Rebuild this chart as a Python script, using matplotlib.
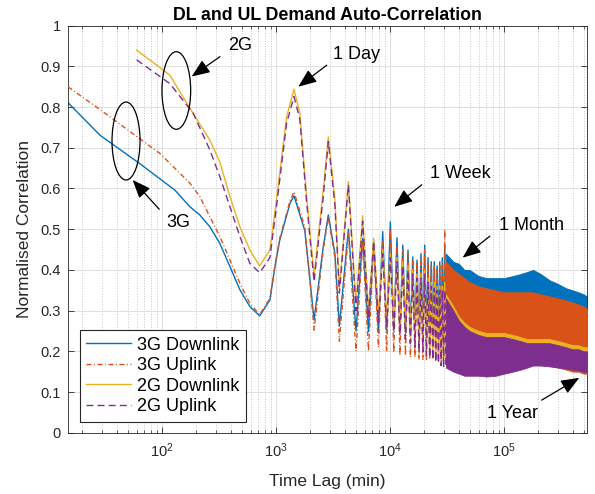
import matplotlib
matplotlib.use("Agg")
import matplotlib.pyplot as plt
from matplotlib.patches import Ellipse
import numpy as np

plt.rcParams['font.family'] = ['Liberation Sans', 'DejaVu Sans']

# colours (MATLAB default order)
C_3G_DL = '#0072BD'
C_3G_UL = '#D95319'
C_2G_DL = '#EDB120'
C_2G_UL = '#7E2F8E'

DAY = 1440  # minutes

# ---- early part of each curve (lag in min, correlation) ----
dl3_lag = [15, 28.6, 64, 130, 176, 215, 263, 322, 395, 483, 590, 720, 885, 980, 1080,
           1330, 1440, 1790, 1990, 2160, 2600, 2880, 3290, 3600]
dl3_val = [0.811, 0.731, 0.661, 0.596, 0.555, 0.535, 0.506, 0.465, 0.408, 0.351, 0.31, 0.287,
           0.326, 0.408, 0.473, 0.564, 0.582, 0.497, 0.375, 0.277, 0.457, 0.535, 0.44, 0.262]

ul3_lag = [15, 28.6, 96, 176, 215, 263, 322, 395, 483, 590, 720, 885, 980, 1080,
           1330, 1440, 1790, 1990, 2160, 2600, 2880, 3290, 3600]
ul3_val = [0.85, 0.794, 0.686, 0.613, 0.58, 0.531, 0.482, 0.424, 0.367, 0.318, 0.29,
           0.33, 0.41, 0.478, 0.57, 0.592, 0.505, 0.37, 0.252, 0.45, 0.53, 0.43, 0.225]

dl2_lag = [60, 117, 176, 263, 322, 395, 483, 590, 720, 885, 1010, 1240, 1440, 1620,
           1860, 2160, 2600, 2880, 3290, 3600]
dl2_val = [0.94, 0.879, 0.797, 0.719, 0.665, 0.58, 0.506, 0.449, 0.41, 0.449, 0.572, 0.776,
           0.844, 0.785, 0.58, 0.387, 0.596, 0.727, 0.572, 0.355]

ul2_lag = [60, 117, 188, 263, 322, 395, 483, 590, 720, 885, 1010, 1240, 1440, 1620,
           1860, 2160, 2600, 2880, 3290, 3600]
ul2_val = [0.916, 0.858, 0.785, 0.695, 0.629, 0.555, 0.482, 0.416, 0.393, 0.43, 0.555, 0.76,
           0.826, 0.77, 0.565, 0.371, 0.58, 0.715, 0.56, 0.343]

# ---- daily peaks (day 3..21) and troughs (day 3.5..21.5) ----
peak_days = np.arange(3, 22)
trough_days = peak_days + 0.5

dl3_peaks = [0.50, 0.478, 0.47, 0.494, 0.518, 0.479, 0.461, 0.449, 0.432, 0.424,
             0.44, 0.461, 0.43, 0.42, 0.42, 0.41, 0.42, 0.43, 0.457]
dl3_troughs = [0.25, 0.248, 0.248, 0.25, 0.25, 0.25, 0.248, 0.245, 0.245, 0.243,
               0.24, 0.24, 0.24, 0.24, 0.24, 0.24, 0.24, 0.24, 0.24]
ul3_peaks = [0.49, 0.47, 0.46, 0.47, 0.50, 0.46, 0.45, 0.44, 0.43, 0.42,
             0.43, 0.45, 0.42, 0.41, 0.41, 0.40, 0.41, 0.42, 0.50]
ul3_troughs = [0.20, 0.20, 0.21, 0.20, 0.197, 0.19, 0.19, 0.185, 0.185, 0.18,
               0.18, 0.18, 0.18, 0.18, 0.178, 0.178, 0.178, 0.178, 0.178]
dl2_peaks = [0.617, 0.533, 0.478, 0.45, 0.44, 0.43, 0.42, 0.41, 0.40, 0.39,
             0.39, 0.40, 0.38, 0.37, 0.37, 0.36, 0.36, 0.36, 0.37]
dl2_troughs = [0.318, 0.30, 0.29, 0.283, 0.275, 0.265, 0.255, 0.245, 0.235, 0.225,
               0.215, 0.21, 0.20, 0.195, 0.19, 0.185, 0.18, 0.175, 0.17]
ul2_peaks = [0.609, 0.52, 0.47, 0.44, 0.43, 0.42, 0.41, 0.40, 0.39, 0.38,
             0.38, 0.39, 0.37, 0.36, 0.355, 0.35, 0.35, 0.35, 0.35]
ul2_troughs = [0.30, 0.285, 0.27, 0.26, 0.25, 0.24, 0.23, 0.22, 0.21, 0.20,
               0.20, 0.19, 0.185, 0.18, 0.175, 0.17, 0.165, 0.16, 0.16]

# ---- long lags: oscillations merge into a band (lower / upper envelope) ----
band_lag = [30960, 36000, 40320, 45000, 50000, 60000, 70000, 85000, 100000, 120000, 140000,
            160000, 180000, 210000, 250000, 300000, 350000, 400000, 450000, 500000, 535000]
dl3_hi = [0.44, 0.42, 0.415, 0.40, 0.40, 0.385, 0.38, 0.38, 0.38, 0.385, 0.39,
          0.395, 0.40, 0.39, 0.375, 0.365, 0.355, 0.35, 0.345, 0.34, 0.335]
dl3_lo = [0.24, 0.24, 0.24, 0.24, 0.24, 0.24, 0.24, 0.24, 0.24, 0.24, 0.24,
          0.24, 0.24, 0.24, 0.24, 0.24, 0.24, 0.24, 0.24, 0.24, 0.24]
ul3_hi = [0.42, 0.40, 0.39, 0.38, 0.37, 0.36, 0.355, 0.35, 0.345, 0.345, 0.345,
          0.345, 0.345, 0.34, 0.335, 0.33, 0.325, 0.32, 0.315, 0.31, 0.305]
ul3_lo = [0.178, 0.175, 0.17, 0.17, 0.165, 0.165, 0.165, 0.165, 0.17, 0.17, 0.175,
          0.175, 0.175, 0.17, 0.165, 0.16, 0.155, 0.15, 0.15, 0.145, 0.145]
dl2_hi = [0.34, 0.31, 0.285, 0.27, 0.26, 0.25, 0.245, 0.245, 0.245, 0.24, 0.235,
          0.23, 0.23, 0.23, 0.23, 0.225, 0.22, 0.215, 0.215, 0.21, 0.21]
dl2_lo = [0.165, 0.16, 0.155, 0.15, 0.15, 0.145, 0.145, 0.148, 0.153, 0.158, 0.163,
          0.168, 0.17, 0.17, 0.168, 0.165, 0.162, 0.16, 0.157, 0.155, 0.152]
ul2_hi = [0.33, 0.30, 0.275, 0.26, 0.25, 0.24, 0.235, 0.235, 0.235, 0.23, 0.225,
          0.22, 0.22, 0.22, 0.22, 0.215, 0.21, 0.205, 0.205, 0.20, 0.20]
ul2_lo = [0.16, 0.15, 0.145, 0.14, 0.14, 0.14, 0.138, 0.14, 0.145, 0.15, 0.155,
          0.16, 0.165, 0.165, 0.163, 0.16, 0.158, 0.155, 0.153, 0.15, 0.148]


def full_curve(lag, val, peaks, troughs):
    x = np.concatenate([lag, np.ravel(np.column_stack([peak_days, trough_days])) * DAY])
    y = np.concatenate([val, np.ravel(np.column_stack([peaks, troughs]))])
    return x, y


series = [
    ('3G Downlink', C_3G_DL, '-', None, dl3_lag, dl3_val, dl3_peaks, dl3_troughs, dl3_lo, dl3_hi),
    ('3G Uplink', C_3G_UL, '-.', (3.6, 1.8, 0.7, 1.8), ul3_lag, ul3_val, ul3_peaks, ul3_troughs, ul3_lo, ul3_hi),
    ('2G Downlink', C_2G_DL, '-', None, dl2_lag, dl2_val, dl2_peaks, dl2_troughs, dl2_lo, dl2_hi),
    ('2G Uplink', C_2G_UL, '--', (5, 3), ul2_lag, ul2_val, ul2_peaks, ul2_troughs, ul2_lo, ul2_hi),
]

fig = plt.figure(figsize=(5.95, 4.94), dpi=100)
ax = fig.add_axes([68 / 595, (494 - 432.7) / 494, 519 / 595, 407 / 494])

for i, (name, col, ls, dash, lag, val, pk, tr, lo, hi) in enumerate(series):
    x, y = full_curve(lag, val, pk, tr)
    line, = ax.plot(x, y, color=col, ls=ls, lw=1.0, label=name, zorder=2 + i)
    if dash is not None:
        line.set_dashes(dash)
    ax.fill_between(band_lag, lo, hi, color=col, lw=0.6, edgecolor=col, zorder=2 + i)

ax.set_xscale('log')
ax.set_xlim(15, 535000)
ax.set_ylim(0, 1)
ax.set_yticks(np.arange(0, 1.01, 0.1))
ax.set_yticklabels(['0', '0.1', '0.2', '0.3', '0.4', '0.5', '0.6', '0.7', '0.8', '0.9', '1'])

ax.grid(True, which='major', color='#dedede', lw=0.7, zorder=0)
ax.grid(True, which='minor', axis='x', color='#c4c4c4', ls=':', lw=0.7, zorder=0)
ax.set_axisbelow(True)
ax.tick_params(which='both', direction='in', top=True, right=True, colors='#262626',
               labelsize=10.5, labelcolor='#262626')
ax.tick_params(which='major', length=4, width=0.6)
ax.tick_params(which='minor', length=2.2, width=0.5)
ax.tick_params(axis='y', pad=5)
ax.tick_params(axis='x', pad=6)
for s in ax.spines.values():
    s.set_color('#262626')
    s.set_linewidth(0.6)

ax.set_xlabel('Time Lag (min)', fontsize=12.5, color='#262626', labelpad=10)
ax.set_ylabel('Normalised Correlation', fontsize=12.5, color='#262626', labelpad=6)
ax.set_title('DL and UL Demand Auto-Correlation', fontsize=12.8, fontweight='bold', pad=4)

leg = ax.legend(loc='lower left', bbox_to_anchor=(0.023, 0.027), borderaxespad=0,
                fontsize=13, fancybox=False, framealpha=1, edgecolor='#262626',
                handlelength=2.5, handletextpad=0.3, labelspacing=0.2, borderpad=0.35)
leg.get_frame().set_linewidth(0.8)
leg.set_zorder(10)

# annotations: (text, text pos, arrow tail, arrow tip)
notes = [
    ('2G', (483, 0.952), (323, 0.924), (182, 0.875)),
    ('3G', (138, 0.516), (94.7, 0.549), (55.3, 0.621)),
    ('1 Day', (5140, 0.930), (2790, 0.903), (1570, 0.850)),
    ('1 Week', (41500, 0.636), (18970, 0.609), (10900, 0.555)),
    ('1 Month', (174000, 0.510), (75300, 0.483), (43400, 0.430)),
    ('1 Year', (118800, 0.048), (214000, 0.080), (458000, 0.135)),
]
for txt, tpos, tail, tip in notes:
    ax.text(tpos[0], tpos[1], txt, fontsize=13, ha='center', va='center', zorder=12)
    ax.annotate('', xy=tip, xytext=tail, zorder=12,
                arrowprops=dict(arrowstyle='-|>,head_length=0.8,head_width=0.32',
                                color='k', lw=0.9, shrinkA=0, shrinkB=0,
                                mutation_scale=14))

# ellipses around the start of the curves
ax.add_patch(Ellipse((0.1118, 0.7167), 0.054, 0.1916, transform=ax.transAxes,
                     fill=False, ec='k', lw=0.9, zorder=12))
ax.add_patch(Ellipse((0.2087, 0.8408), 0.0553, 0.1907, transform=ax.transAxes,
                     fill=False, ec='k', lw=0.9, zorder=12))

fig.savefig('out.png', dpi=100)
